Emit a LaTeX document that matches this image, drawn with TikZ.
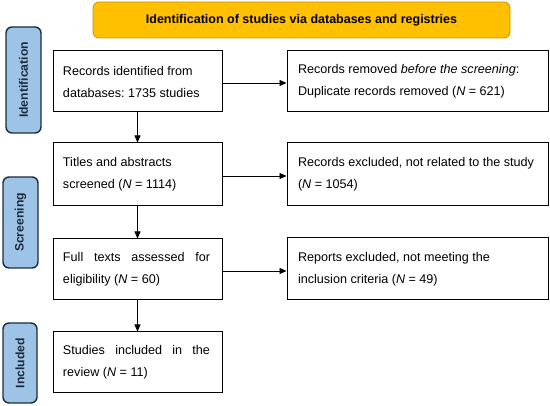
\documentclass[tikz,border=0pt]{standalone}
\usepackage{fontspec}
\setmainfont{Liberation Sans}
\usetikzlibrary{arrows.meta}
\definecolor{bannerfill}{HTML}{FFC000}
\definecolor{bannerline}{HTML}{C99400}
\definecolor{tabfill}{HTML}{9DC3E6}
\definecolor{tabline}{HTML}{1E2B3A}
\frenchspacing
\newcommand{\jline}[1]{\makebox[147pt][s]{\spaceskip=0pt\relax #1}}
\begin{document}
\begin{tikzpicture}[x=1pt,y=-1pt,
  box/.style={draw=black,line width=1pt,inner xsep=10pt,inner ysep=0pt,
    align=flush left,anchor=center,font=\fontsize{12.6}{22}\selectfont\frenchspacing},
  lbox/.style={box,text width=149pt,minimum width=169pt},
  rbox/.style={box,inner xsep=11pt,text width=239pt,minimum width=261pt},
  tab/.style={draw=tabline,fill=tabfill,line width=1.4pt,rounded corners=6pt,
    inner sep=0pt,anchor=center},
  tablabel/.style={rotate=90,font=\fontsize{12.2}{14}\selectfont\bfseries,text=tabline,anchor=center},
  arr/.style={-{Triangle[length=7pt,width=6pt]},line width=0.8pt}]
\useasboundingbox (0,0) rectangle (550,406);
% banner
\node[draw=bannerline,fill=bannerfill,line width=0.8pt,rounded corners=6pt,
  minimum width=417pt,minimum height=36pt,inner sep=0pt,
  font=\fontsize{12.5}{14}\selectfont\bfseries] (banner) at (301.5,20)
  {Identification of studies via databases and registries};
% tabs
\node[tab,minimum width=35pt,minimum height=106pt] (tid) at (23.5,80) {};
\node[tablabel] (tidl) at (tid.center) {Identification};
\node[tab,minimum width=35pt,minimum height=91pt] (tsc) at (20.5,222.5) {};
\node[tablabel] (tscl) at (tsc.center) {Screening};
\node[tab,minimum width=34pt,minimum height=80pt] (tin) at (20,363) {};
\node[tablabel] (tinl) at (tin.center) {Included};
% left boxes
\node[lbox,minimum height=61pt] (b1) at (137.5,81.5)
  {Records identified from\\databases: 1735 studies};
\node[lbox,minimum height=63pt] (b2) at (137.5,174.5)
  {Titles and abstracts\\screened (\textit{N} = 1114)};
\node[lbox,minimum height=61pt] (b3) at (137.5,269.5)
  {\jline{Full texts assessed for}\\eligibility (\textit{N} = 60)};
\node[lbox,minimum height=61pt] (b4) at (137.5,362.5)
  {\jline{Studies included in the}\\review (\textit{N} = 11)};
% right boxes
\node[rbox,minimum height=61pt] (r1) at (417.5,81.5)
  {\mbox{Records removed \textit{before the screening}:}\\\mbox{Duplicate records removed (\textit{N} = 621)}};
\node[rbox,minimum height=63pt] (r2) at (417.5,174.5)
  {\mbox{Records excluded, not related to the study}\\(\textit{N} = 1054)};
\node[rbox,minimum height=62pt] (r3) at (417.5,269)
  {Reports excluded, not meeting the\\inclusion criteria (\textit{N} = 49)};
% arrows
\draw[arr] (b1.south) -- (b2.north);
\draw[arr] (b2.south) -- (b3.north);
\draw[arr] (b3.south) -- (b4.north);
\draw[arr] ([yshift=-1.5pt]b1.east) -- ([yshift=-1.5pt]b1.east -| r1.west);
\draw[arr] ([yshift=-1.5pt]b2.east) -- ([yshift=-1.5pt]b2.east -| r2.west);
\draw[arr] ([yshift=-1.5pt]b3.east) -- ([yshift=-1.5pt]b3.east -| r3.west);
\end{tikzpicture}
\end{document}
